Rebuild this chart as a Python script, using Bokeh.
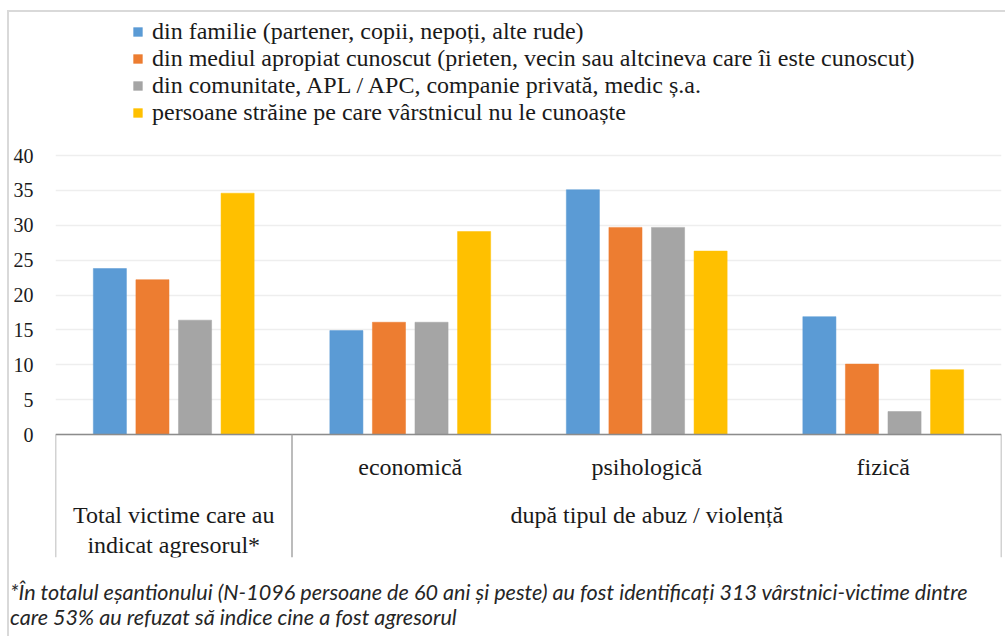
from bokeh.plotting import figure
from bokeh.models import (ColumnDataSource, FactorRange, Range1d, FixedTicker, Legend,
                          LegendItem, Div)
from bokeh.layouts import column
from bokeh.transform import dodge
from bokeh.core.properties import value
from bokeh.embed import file_html
from bokeh.resources import INLINE

# ---- data ----
categories = ["Total", "economică", "psihologică", "fizică"]
cat_labels = ["economică", "psihologică", "fizică"]
familie = [23.8, 14.9, 35.1, 16.9]
apropiat = [22.2, 16.1, 29.7, 10.1]
comunitate = [16.4, 16.1, 29.7, 3.3]
straine = [34.6, 29.1, 26.3, 9.3]
series_names = [
    "din familie (partener, copii, nepoți, alte rude)",
    "din mediul apropiat cunoscut (prieten, vecin sau altcineva care îi este cunoscut)",
    "din comunitate, APL / APC, companie privată, medic ș.a.",
    "persoane străine pe care vârstnicul nu le cunoaște",
]
colors = ["#5B9BD5", "#ED7D31", "#A5A5A5", "#FFC000"]
y_ticks = [0, 5, 10, 15, 20, 25, 30, 35, 40]
total_label = ["Total victime care au", "indicat agresorul*"]
group_label = "după tipul de abuz / violență"
footnote = ["*În totalul eșantionului (N-1096 persoane de 60 ani și peste) au fost identificați 313 vârstnici-victime dintre",
            "care 53% au refuzat să indice cine a fost agresorul"]

SERIF = "Liberation Serif"
TXT = "#1a1a1a"

src = ColumnDataSource(dict(cat=categories, s0=familie, s1=apropiat, s2=comunitate, s3=straine))

BORDER = "#d9d9d9"
bg = (f"linear-gradient({BORDER},{BORDER}) 7px 10px / 2px 100% no-repeat, "
      f"linear-gradient({BORDER},{BORDER}) 7px 10px / 100% 2px no-repeat, white")

p = figure(width=1005, height=560, x_range=FactorRange(*categories),
           y_range=Range1d(-17.63, 60.65), output_backend="svg", toolbar_location=None,
           min_border_left=55, min_border_right=4, min_border_top=11, min_border_bottom=3,
           styles={"background": bg})
p.outline_line_color = None
p.background_fill_alpha = 0
p.border_fill_alpha = 0
p.xaxis.visible = False
p.xgrid.grid_line_color = None
p.ygrid.ticker = FixedTicker(ticks=y_ticks)
p.ygrid.grid_line_color = "#eeeeee"
p.ygrid.grid_line_width = 1.5

yax = p.yaxis[0]
yax.ticker = FixedTicker(ticks=y_ticks)
yax.axis_line_color = None
yax.major_tick_line_color = None
yax.minor_tick_line_color = None
yax.major_label_text_font = SERIF
yax.major_label_text_font_size = "20px"
yax.major_label_text_color = TXT
yax.major_label_standoff = 16

offsets = [-0.27, -0.09, 0.09, 0.27]
renderers = []
for i, (col, off) in enumerate(zip(["s0", "s1", "s2", "s3"], offsets)):
    r = p.vbar(x=dodge("cat", off, range=p.x_range), top=col, width=0.14, source=src,
               fill_color=colors[i], line_color=colors[i], line_width=0.5)
    renderers.append(r)

# axis baseline and table lines (synthetic categorical coordinates)
p.segment(x0=[0], y0=[0], x1=[4], y1=[0], line_color="#8c8c8c", line_width=1.5)
p.segment(x0=[0, 1, 4], y0=[0, 0, 0], x1=[0, 1, 4], y1=[-17.63, -17.63, -17.63],
          line_color="#a6a6a6", line_width=1.5)

# category labels
lab = dict(text_font=value(SERIF), text_font_size="24px", text_align="center",
           text_baseline="middle", text_color=TXT)
p.text(x=cat_labels, y=[-4.7] * 3, text=cat_labels, **lab)
p.text(x=[2.5], y=[-11.6], text=[group_label], **lab)
p.text(x=[0.5, 0.5], y=[-11.5, -15.8], text=total_label, **lab)

legend = Legend(items=[LegendItem(label=n, renderers=[r]) for n, r in zip(series_names, renderers)],
                location=(77, 431), orientation="vertical", padding=0, margin=0, spacing=0,
                glyph_width=11, glyph_height=11, label_standoff=9, label_height=20,
                label_text_font=SERIF, label_text_font_size="24px", label_text_color=TXT,
                border_line_color=None, background_fill_alpha=0)
p.add_layout(legend, "center")

foot_bg = (f"linear-gradient({BORDER},{BORDER}) 7px 0px / 2px 100% no-repeat, white")
foot = Div(text="<br>".join(footnote), width=1005, height=76, margin=(0, 0, 0, 0),
           styles={"background": foot_bg, "font-family": "Lato", "font-style": "italic",
                   "font-size": "21.6px", "color": "#262626", "line-height": "25px",
                   "padding-left": "10px", "padding-top": "20px", "box-sizing": "border-box",
                   "white-space": "nowrap"})

layout = column(p, foot, spacing=0)
open("out.html", "w").write(file_html(layout, INLINE))
